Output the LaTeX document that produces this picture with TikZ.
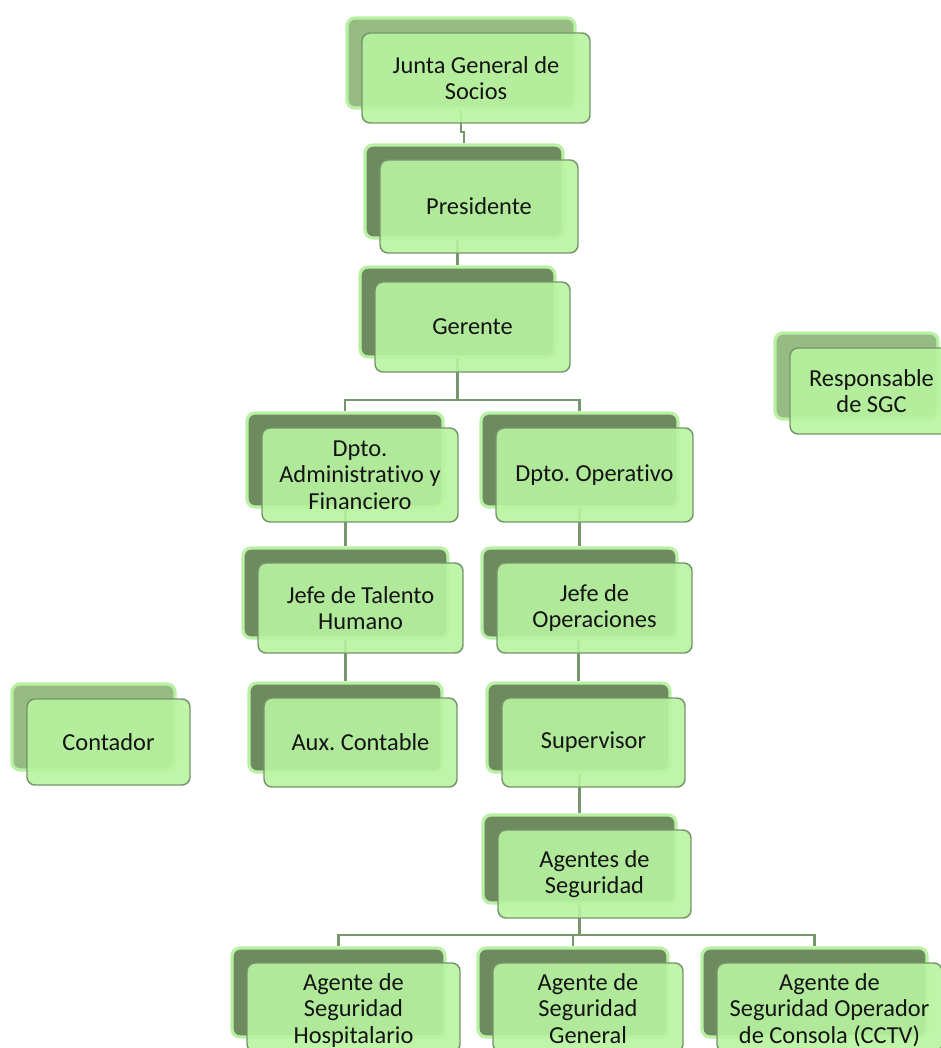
\documentclass[tikz,border=0pt]{standalone}
\usepackage{fontspec}
\setmainfont{Carlito}[Ligatures={NoCommon}]
\frenchspacing
\usetikzlibrary{calc,backgrounds}
\definecolor{backdark}{RGB}{110,139,95}
\definecolor{backlight}{RGB}{150,188,132}
\definecolor{glowc}{RGB}{184,240,164}
\definecolor{frontfill}{RGB}{184,244,160}
\definecolor{frontline}{RGB}{118,148,106}
\definecolor{linkc}{RGB}{120,150,108}
\definecolor{txt}{RGB}{20,20,20}
\tikzset{
  backbox/.style={draw=glowc, line width=2.4pt, rounded corners=6pt, inner sep=0pt},
  frontbox/.style={draw=frontline, line width=1.1pt, fill=frontfill, fill opacity=0.9,
    text opacity=1, rounded corners=6pt, align=center, inner sep=0pt,
    font=\fontsize{18.3pt}{19.8pt}\selectfont, text=txt},
  link/.style={draw=linkc, line width=1.6pt}
}
\newcommand\orgbox[7]{%
  \node[backbox, fill=#2, minimum width=#5*0.75pt, minimum height=#6*0.75pt] (#1b) at (#3,#4) {};
  \node[frontbox, minimum width=#5*0.75pt, minimum height=#6*0.75pt] (#1) at ($(#1b)+(15,15)$) {#7};
}
\newcommand\toppad{\rule{0pt}{20pt}}
\begin{document}
\begin{tikzpicture}[x=0.75pt,y=-0.75pt]
\useasboundingbox (0,0) rectangle (941,1048);
\clip (0,0) rectangle (941,1048);

\orgbox{junta}{backlight}{461}{63}{228}{90}{Junta General de\\Socios}
\orgbox{pres}{backdark}{464}{191.5}{198}{93}{Presidente}
\orgbox{ger}{backdark}{457.5}{312}{195}{90}{Gerente}
\orgbox{resp}{backlight}{856.5}{376}{163}{86}{Responsable\\de SGC}
\orgbox{cont}{backlight}{93.5}{727}{163}{86}{Contador}
\orgbox{adm}{backdark}{345}{460}{196}{94}{Dpto.\\Administrativo y\\Financiero}
\orgbox{op}{backdark}{579.5}{460}{197}{94}{Dpto. Operativo}
\orgbox{tal}{backdark}{345.5}{593}{205}{90}{Jefe de Talento\\Humano}
\orgbox{jop}{backdark}{579.5}{593}{195}{90}{Jefe de\\Operaciones}
\orgbox{aux}{backdark}{345.5}{727.5}{193}{89}{Aux. Contable}
\orgbox{sup}{backdark}{578.5}{727.5}{183}{89}{Supervisor}
\orgbox{ag}{backdark}{579.5}{859}{193}{88}{Agentes de\\Seguridad}
\orgbox{hosp}{backdark}{338.5}{992.5}{213}{89}{\toppad Agente de\\Seguridad\\Hospitalario\strut}
\orgbox{gen}{backdark}{573}{992.5}{190}{89}{\toppad Agente de\\Seguridad\\General\strut}
\orgbox{cctv}{backdark}{814.5}{992.5}{225}{89}{\toppad Agente de\\Seguridad Operador\\de Consola (CCTV)\strut}

\begin{scope}[on background layer]
\draw[link] (juntab.south) -- ++(0,22) -| (presb.north);
\draw[link] (gerb.north) -- (gerb.north |- presb.south);
\coordinate (gbus) at (457.5,400);
\draw[link] (gerb.south) -- (gbus);
\draw[link] (admb.north) |- (gbus) -| (opb.north);
\draw[link] (talb.north) -- (talb.north |- admb.south);
\draw[link] (auxb.north) -- (auxb.north |- talb.south);
\draw[link] (jopb.north) -- (jopb.north |- opb.south);
\draw[link] (supb.north) -- (supb.north |- jopb.south);
\draw[link] (agb.north) -- (agb.north |- supb.south);
\coordinate (abus) at (579.5,935);
\draw[link] (agb.south) -- (abus);
\draw[link] (hospb.north) |- (abus) -| (cctvb.north);
\draw[link] (genb.north) -- (genb.north |- abus);
\end{scope}
\end{tikzpicture}
\end{document}
